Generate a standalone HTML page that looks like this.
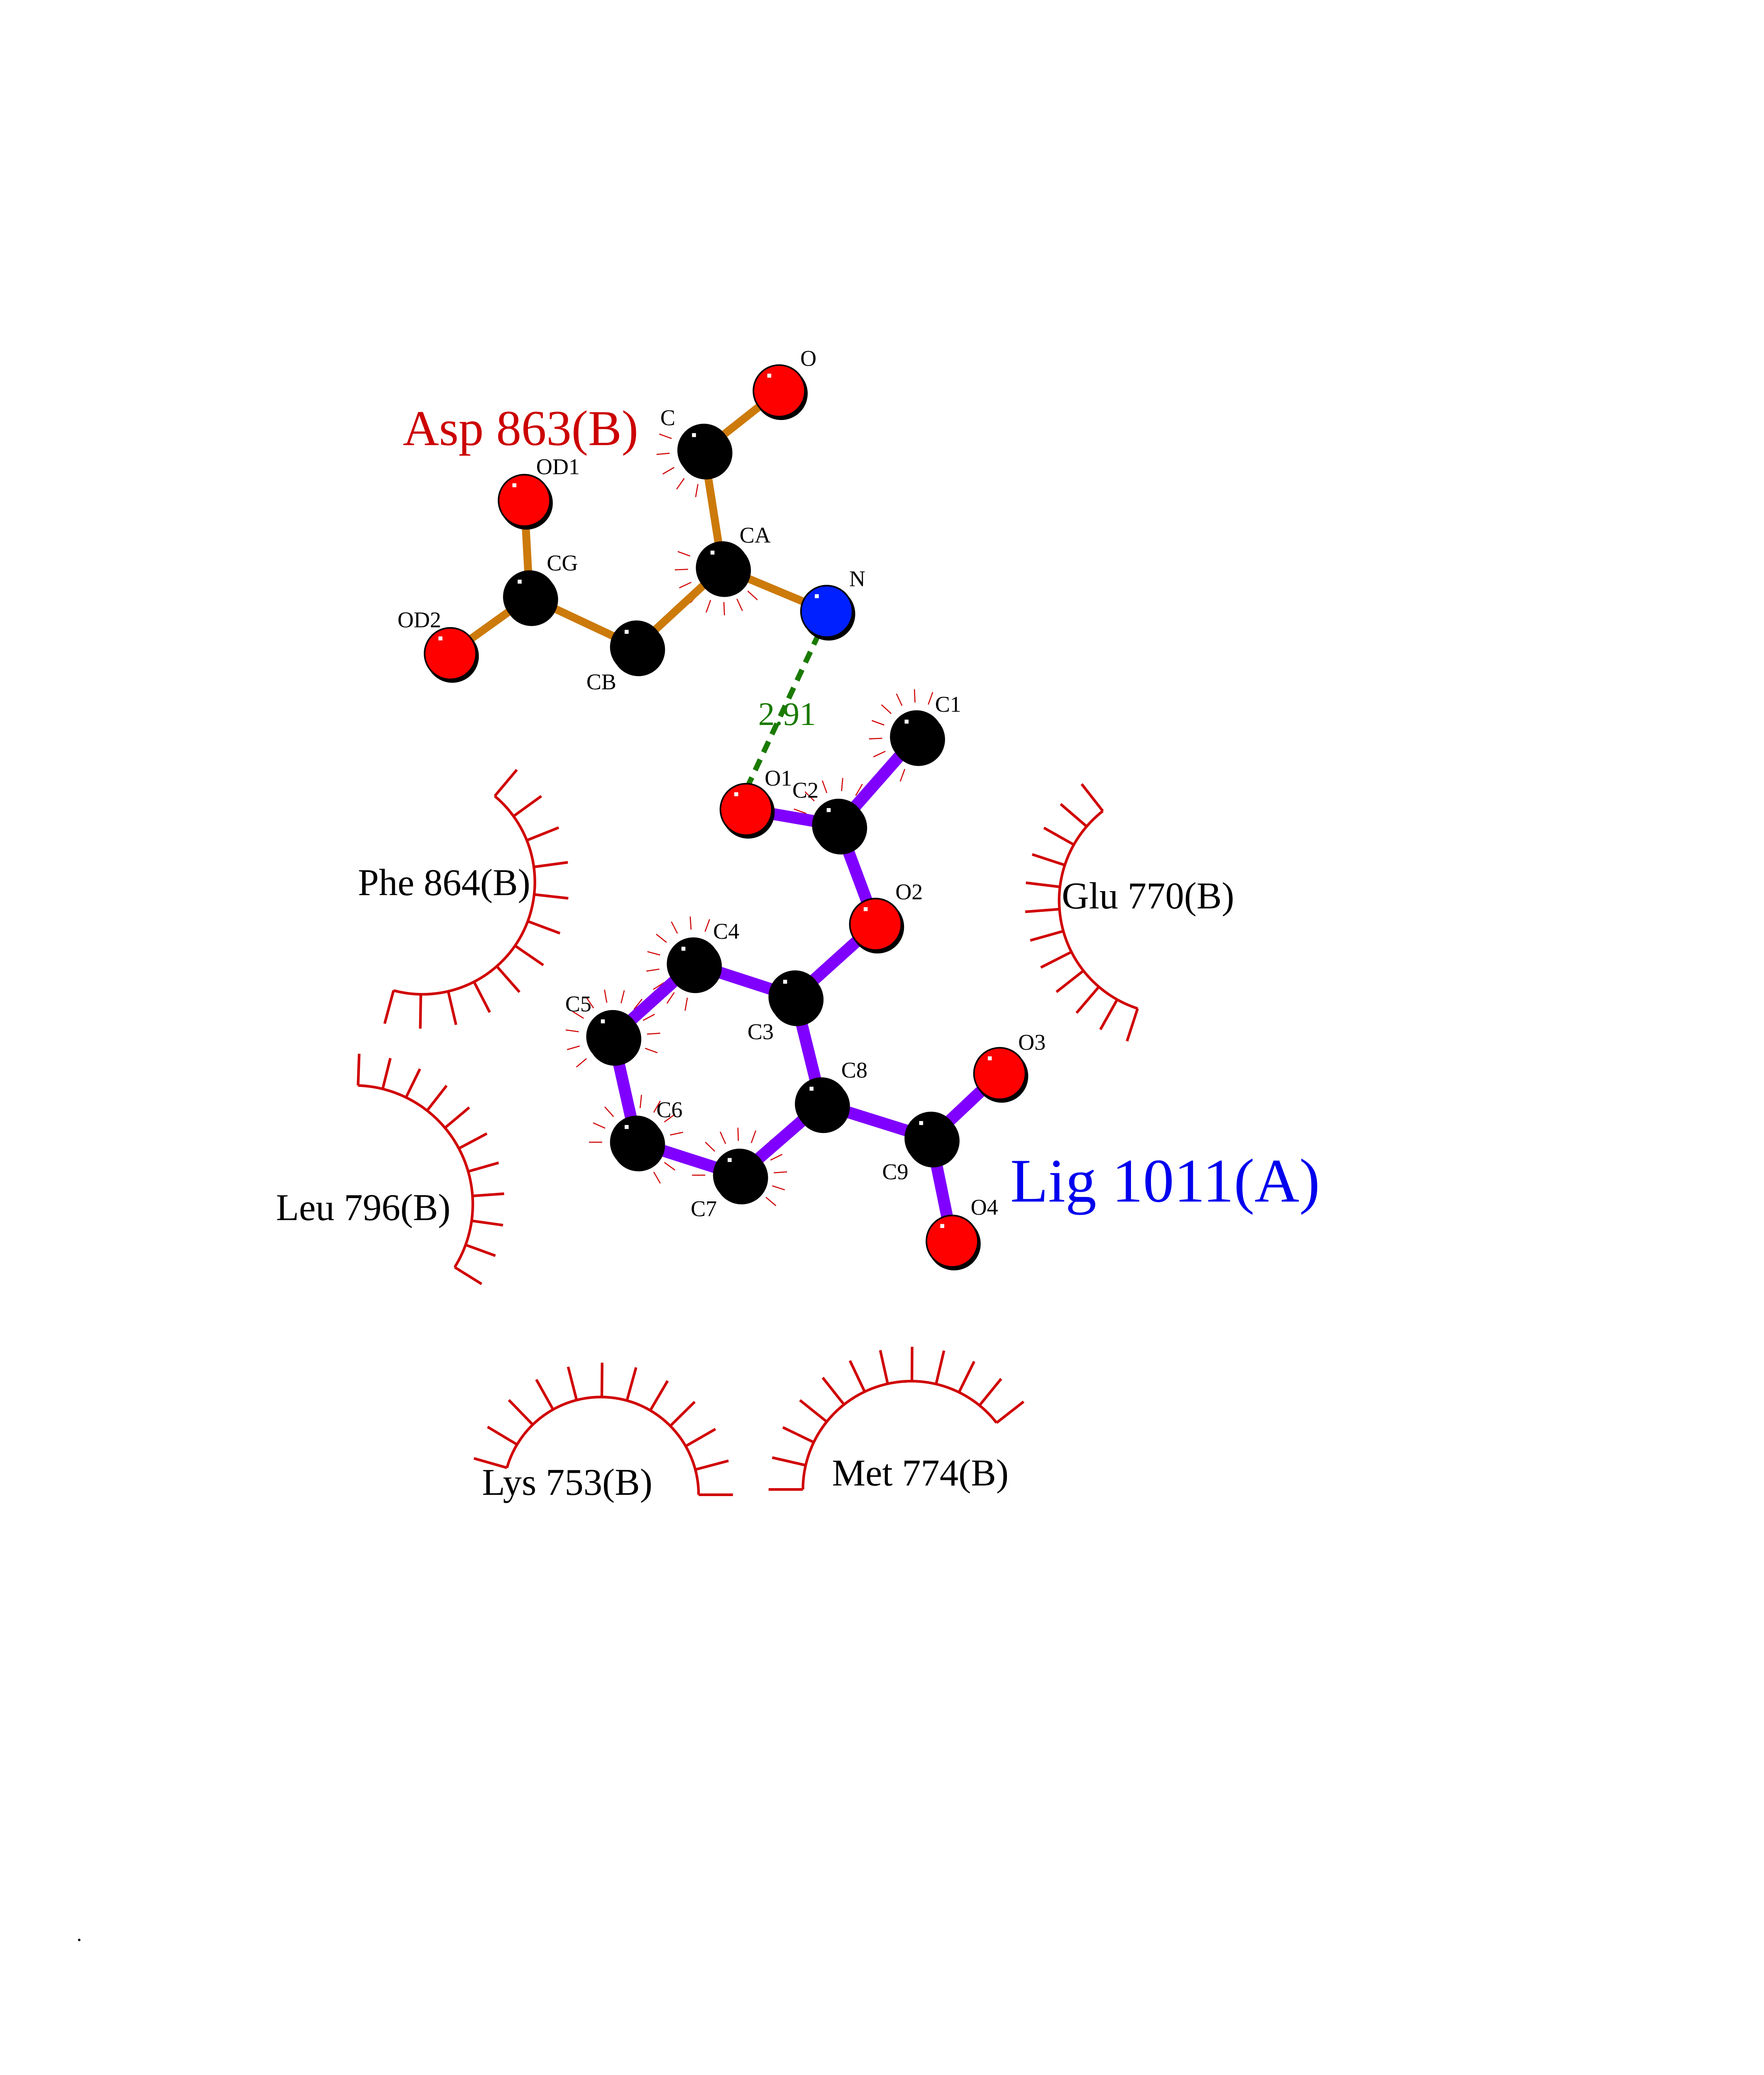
<!DOCTYPE html>
<html><head><meta charset="utf-8"><style>
html,body{margin:0;padding:0;background:#fff;width:4250px;height:5500px;overflow:hidden;}
svg{display:block;position:absolute;left:0;top:0;width:4250px;height:5500px;}
text{font-family:"Liberation Serif",serif;}
</style></head><body>
<svg id="s" width="4250" height="5500" viewBox="0 0 1335.7 1728.6" preserveAspectRatio="xMinYMin meet" xmlns="http://www.w3.org/2000/svg">
<rect width="1335.7" height="1728.6" fill="#fff"/>
<g id="ticks" stroke="#d00000" fill="none"></g>
<g stroke="#cc7a0a" stroke-width="6" stroke-linecap="round">
<line x1="590" y1="296" x2="533" y2="341"/>
<line x1="533" y1="341" x2="547" y2="430"/>
<line x1="547" y1="430" x2="626" y2="463"/>
<line x1="547" y1="430" x2="482" y2="490"/>
<line x1="482" y1="490" x2="401" y2="452"/>
<line x1="401" y1="452" x2="397" y2="379"/>
<line x1="401" y1="452" x2="341" y2="495"/>
</g>
<g stroke="#8000ff" stroke-width="9" stroke-linecap="round">
<line x1="565" y1="613" x2="635" y2="625"/>
<line x1="635" y1="625" x2="694" y2="558"/>
<line x1="635" y1="625" x2="663" y2="700"/>
<line x1="663" y1="700" x2="602" y2="755"/>
<line x1="602" y1="755" x2="525" y2="730"/>
<line x1="525" y1="730" x2="464" y2="785"/>
<line x1="464" y1="785" x2="482" y2="865"/>
<line x1="482" y1="865" x2="560" y2="890"/>
<line x1="560" y1="890" x2="622" y2="836"/>
<line x1="622" y1="836" x2="602" y2="755"/>
<line x1="622" y1="836" x2="705" y2="862"/>
<line x1="705" y1="862" x2="757" y2="813"/>
<line x1="705" y1="862" x2="721" y2="940"/>
</g>
<line x1="620" y1="480" x2="565" y2="598" stroke="#1a7a00" stroke-width="4" stroke-dasharray="9,6"/>
<text x="596" y="549" font-size="25" fill="#1a7a00" text-anchor="middle">2.91</text>
<g id="atoms" stroke="#000" stroke-width="1.2"></g>
<g font-size="17" fill="#000">
<text x="606" y="277">O</text><text x="500" y="322">C</text>
<text x="560" y="411">CA</text><text x="643" y="444">N</text>
<text x="414" y="432">CG</text><text x="406" y="359">OD1</text>
<text x="301" y="475">OD2</text><text x="444" y="522">CB</text>
<text x="708" y="539">C1</text><text x="579" y="595">O1</text><text x="600" y="604">C2</text>
<text x="678" y="681">O2</text><text x="540" y="711">C4</text>
<text x="428" y="766">C5</text><text x="566" y="787">C3</text>
<text x="637" y="816">C8</text><text x="771" y="795">O3</text>
<text x="497" y="846">C6</text><text x="668" y="893">C9</text>
<text x="523" y="921">C7</text><text x="735" y="920">O4</text>
</g>
<text x="305" y="337" font-size="38" fill="#cc0000">Asp 863(B)</text>
<text x="765" y="910" font-size="47" fill="#0000ee">Lig 1011(A)</text>
<g font-size="28.5" fill="#000">
<text x="271" y="678">Phe 864(B)</text>
<text x="804" y="688">Glu 770(B)</text>
<text x="209" y="924">Leu 796(B)</text>
<text x="365" y="1132">Lys 753(B)</text>
<text x="630" y="1125">Met 774(B)</text>
</g>
<text x="58" y="1470" font-size="16">.</text>
</svg>
<script>
var NS="http://www.w3.org/2000/svg";
function el(p,n,a){var e=document.createElementNS(NS,n);for(var k in a)e.setAttribute(k,a[k]);p.appendChild(e);return e;}
var T=document.getElementById("ticks");
function res(cx,cy,r,a0,a1,n,len){
 var d=Math.PI/180,x0=cx+r*Math.cos(a0*d),y0=cy+r*Math.sin(a0*d),x1=cx+r*Math.cos(a1*d),y1=cy+r*Math.sin(a1*d);
 var large=Math.abs(a1-a0)>180?1:0,sw=a1>a0?1:0;
 el(T,"path",{d:"M"+x0+","+y0+" A"+r+","+r+" 0 "+large+","+sw+" "+x1+","+y1,"stroke-width":2});
 for(var i=0;i<n;i++){var a=(a0+(a1-a0)*i/(n-1))*d;
  el(T,"line",{x1:cx+r*Math.cos(a),y1:cy+r*Math.sin(a),x2:cx+(r+len)*Math.cos(a),y2:cy+(r+len)*Math.sin(a),"stroke-width":2});}
}
res(320,668,85,-50,105,12,26);
res(888,682,86,232,108,12,26);
res(268,912,90,-88,32,11,24);
res(455,1132,74,196,360,12,26);
res(690,1128,82,180,322,12,26);
function small(cx,cy,a0,a1,n){var d=Math.PI/180;for(var i=0;i<n;i++){var a=(a0+(a1-a0)*i/(n-1))*d;
 el(T,"line",{x1:cx+26*Math.cos(a),y1:cy+26*Math.sin(a),x2:cx+36*Math.cos(a),y2:cy+36*Math.sin(a),"stroke-width":0.8});}}
small(533,341,100,200,5);small(547,430,20,200,9);small(694,558,110,290,9);small(635,625,200,300,5);
small(525,730,100,290,9);small(464,785,140,380,11);small(482,865,180,420,11);small(560,890,180,400,11);
var A=document.getElementById("atoms");
[[590,296,"#f00"],[533,341,"#000"],[547,430,"#000"],[626,463,"#0020ff"],[482,490,"#000"],[401,452,"#000"],[397,379,"#f00"],[341,495,"#f00"],
[694,558,"#000"],[635,625,"#000"],[565,613,"#f00"],[663,700,"#f00"],[602,755,"#000"],[525,730,"#000"],[464,785,"#000"],[482,865,"#000"],[560,890,"#000"],[622,836,"#000"],[705,862,"#000"],[757,813,"#f00"],[721,940,"#f00"]
].forEach(function(p){el(A,"circle",{cx:p[0]+1.5,cy:p[1]+2,r:19.5,fill:"#000"});el(A,"circle",{cx:p[0],cy:p[1],r:19.5,fill:p[2]});
 el(A,"rect",{x:p[0]-9,y:p[1]-13,width:3,height:3,fill:"#fff",stroke:"none"});});
</script>
</body></html>
